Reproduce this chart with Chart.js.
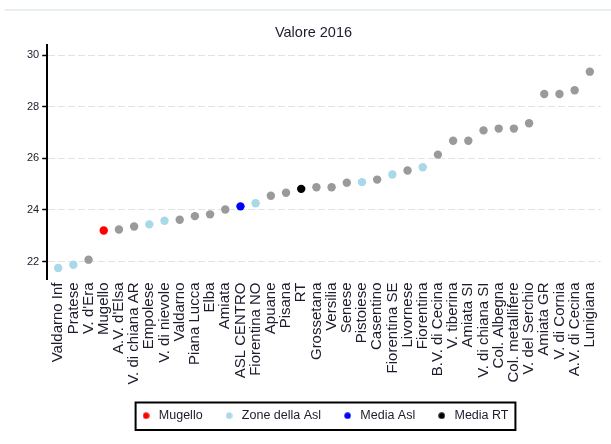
<!DOCTYPE html>
<html>
<head>
<meta charset="utf-8">
<script src="https://cdn.jsdelivr.net/npm/chart.js@4.4.0/dist/chart.umd.min.js"></script>
<style>
html, body { margin: 0; padding: 0; background: #fff; }
#wrap { position: relative; width: 611px; height: 444px; }
#wrap canvas { position: absolute; left: 0; top: 0; }
#topline { position: absolute; left: 5px; right: 0; top: 9px; height: 2px; background: #e8eff3; }
</style>
</head>
<body>
<div id="wrap">
  <canvas id="myChart" width="611" height="444"></canvas>
  <div id="topline"></div>
</div>
<script>
// zone, in order of value
const zone = [
  'Valdarno Inf', 'Pratese', "V. d'Era", 'Mugello', "A.V. d'Elsa", 'V. di chiana AR',
  'Empolese', 'V. di nievole', 'Valdarno', 'Piana Lucca', 'Elba', 'Amiata',
  'ASL CENTRO', 'Fiorentina NO', 'Apuane', 'Pisana', 'RT', 'Grossetana',
  'Versilia', 'Senese', 'Pistoiese', 'Casentino', 'Fiorentina SE', 'Livornese',
  'Fiorentina', 'B.V. di Cecina', 'V. tiberina', 'Amiata SI', 'V. di chiana SI', 'Col. Albegna',
  'Col. metallifere', 'V. del Serchio', 'Amiata GR', 'V. di Cornia', 'A.V. di Cecina', 'Lunigiana'
];
const valore = [
  21.75, 21.87, 22.07, 23.20, 23.24, 23.36,
  23.44, 23.58, 23.62, 23.76, 23.83, 24.02,
  24.14, 24.26, 24.55, 24.67, 24.82, 24.88,
  24.88, 25.06, 25.08, 25.18, 25.38, 25.53,
  25.66, 26.15, 26.69, 26.69, 27.09, 27.16,
  27.16, 27.37, 28.50, 28.50, 28.65, 29.37
];
// g = altre zone, m = Mugello, z = zone della Asl, a = media Asl, r = media RT
const gruppo = [
  'z', 'z', 'g', 'm', 'g', 'g',
  'z', 'z', 'g', 'g', 'g', 'g',
  'a', 'z', 'g', 'g', 'r', 'g',
  'g', 'g', 'z', 'g', 'z', 'g',
  'z', 'g', 'g', 'g', 'g', 'g',
  'g', 'g', 'g', 'g', 'g', 'g'
];
const yTicks = [22, 24, 26, 28, 30];

const FONT = 'Liberation Sans, Arial, sans-serif';

function punti(code) {
  const out = [];
  valore.forEach(function (v, i) {
    if (gruppo[i] === code) out.push({ x: i, y: v });
  });
  return out;
}

function serie(label, code, color) {
  return {
    label: label,
    data: punti(code),
    backgroundColor: color,
    borderColor: color,
    pointStyle: 'circle',
    pointRadius: 4.2,
    pointBorderWidth: 0,
    pointHoverRadius: 4.2
  };
}

// small dot used as legend marker
function dot(color) {
  const c = document.createElement('canvas');
  c.width = 7; c.height = 7;
  const g = c.getContext('2d');
  g.fillStyle = color;
  g.beginPath();
  g.arc(3.5, 3.5, 3.2, 0, Math.PI * 2);
  g.fill();
  return c;
}

// frame around the legend, like the original
const legendBox = {
  id: 'legendBox',
  afterDraw(chart) {
    const hb = chart.legend && chart.legend.legendHitBoxes;
    if (!hb || !hb.length) return;
    const left = Math.min(...hb.map(b => b.left)) - 4;
    const right = Math.max(...hb.map(b => b.left + b.width)) + 7;
    const top = hb[0].top - 7;
    const bottom = hb[0].top + hb[0].height + 8;
    const c = chart.ctx;
    c.save();
    c.strokeStyle = '#000';
    c.lineWidth = 2;
    c.strokeRect(left, top, right - left, bottom - top);
    c.restore();
  }
};

const ctx = document.getElementById('myChart').getContext('2d');
const config = {
  type: 'scatter',
  data: {
    datasets: [
      serie('', 'g', '#9a9a9a'),
      serie('Mugello', 'm', '#ff0000'),
      serie('Zone della Asl', 'z', '#a9d8e8'),
      serie('Media Asl', 'a', '#0000ff'),
      serie('Media RT', 'r', '#000000')
    ]
  },
  options: {
    responsive: false,
    animation: false,
    layout: { padding: { left: 24, right: 8, top: 0, bottom: 12 } },
    plugins: {
      title: {
        display: true,
        text: 'Valore 2016',
        color: '#1c1c2c',
        font: { family: FONT, size: 14.5, weight: 'normal' },
        padding: { top: 24, bottom: 4 }
      },
      legend: {
        display: true,
        position: 'bottom',
        fullSize: false,
        labels: {
          generateLabels: chart => Chart.defaults.plugins.legend.labels.generateLabels(chart)
            .filter(item => item.text !== '')
            .map(item => Object.assign(item, { pointStyle: dot(item.fillStyle) })),
          usePointStyle: true,
          pointStyleWidth: 13,
          boxHeight: 5,
          padding: 20,
          color: '#1c1c2c',
          font: { family: FONT, size: 12.5 }
        }
      },
      tooltip: { enabled: false }
    },
    scales: {
      x: {
        type: 'linear',
        min: -0.72,
        max: 35.72,
        afterBuildTicks: scale => { scale.ticks = zone.map((z, i) => ({ value: i })); },
        afterFit: scale => { scale.height = 110; },
        grid: { display: false, drawTicks: false },
        border: { display: false },
        ticks: {
          autoSkip: false,
          maxRotation: 90,
          minRotation: 90,
          padding: 3,
          color: '#1c1c2c',
          font: { family: FONT, size: 15 },
          callback: v => zone[v]
        }
      },
      y: {
        min: 21.3,
        max: 30.39,
        afterBuildTicks: scale => { scale.ticks = yTicks.map(v => ({ value: v })); },
        grid: {
          color: '#e2e2e2',
          lineWidth: 1,
          drawTicks: true,
          tickLength: 5,
          tickColor: '#000',
          tickWidth: 1.5
        },
        border: { display: true, color: '#000', width: 2, dash: [7, 3] },
        ticks: {
          padding: 3,
          color: '#1c1c2c',
          font: { family: FONT, size: 11 }
        }
      }
    }
  },
  plugins: [legendBox]
};

//DRAW CHART
var myChart = new Chart(ctx, config);
</script>
</body>
</html>
